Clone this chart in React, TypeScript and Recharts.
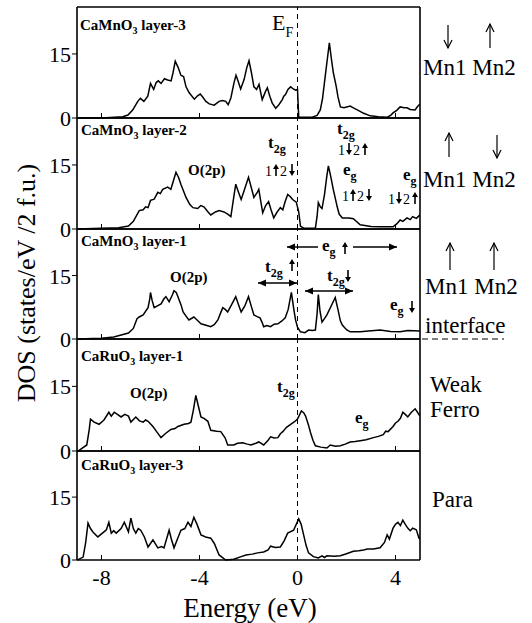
import React from 'react';
import { LineChart, Line, XAxis, YAxis, ReferenceLine } from 'recharts';

const FONT = "'Liberation Serif', 'Times New Roman', Times, 'DejaVu Serif', serif";

// energy grid (eV) and DOS (states/eV/2 f.u.) per layer
const mnL3Energy = [-9, -8, -7.13, -6.92, -6.72, -6.52, -6.41, -6.27, -6.11, -6.0, -5.87, -5.77, -5.68, -5.57, -5.43, -5.3, -5.16, -5.08, -4.99, -4.87, -4.76, -4.65, -4.55, -4.42, -4.21, -4.08, -3.97, -3.87, -3.74, -3.6, -3.4, -3.2, -3.06, -2.93, -2.83, -2.72, -2.59, -2.51, -2.43, -2.32, -2.18, -2.07, -1.98, -1.88, -1.78, -1.67, -1.57, -1.5, -1.44, -1.3, -1.23, -1.13, -1.03, -0.89, -0.76, -0.62, -0.56, -0.49, -0.39, -0.28, -0.17, -0.08, 0.0, 0.05, 0.6, 0.8, 0.93, 1.02, 1.1, 1.2, 1.3, 1.38, 1.46, 1.58, 1.65, 1.75, 1.9, 2.15, 2.3, 2.44, 2.7, 2.97, 3.3, 3.66, 3.8, 3.9, 4.05, 4.19, 4.35, 4.47, 4.6, 4.8, 4.9, 5.0];
const mnL3Dos = [0, 0, 0.3, 0.7, 1.9, 3.9, 4.6, 3.9, 5.1, 8.1, 6.7, 8.3, 8.7, 8.1, 9.2, 8.9, 8.7, 10.6, 13.3, 11.8, 10, 9.7, 7.3, 5.9, 4.4, 5.2, 5.6, 4.9, 3.9, 3.3, 3.0, 3.9, 4.1, 3.9, 3.1, 4.7, 8.3, 10, 8.7, 6.8, 9, 11.8, 13.4, 10.6, 7.3, 6.7, 7.9, 5.9, 4.3, 6.3, 7.1, 5.1, 3.5, 2.3, 3.1, 4.3, 5.1, 5.5, 6.7, 7.3, 6.8, 6.5, 6.7, 0.2, 0.2, 0.6, 1.9, 4.5, 8.3, 13, 17.6, 14, 10.7, 7.4, 5, 2.6, 2.4, 2.8, 2.3, 1.9, 1.1, 0.5, 0.3, 0.2, 0.6, 1.2, 1.8, 2.6, 2.4, 2.4, 2.0, 1.9, 2.7, 3.3];

const mnL2Energy = [-9, -8, -7.3, -6.9, -6.7, -6.46, -6.3, -6.2, -6.1, -6.0, -5.85, -5.7, -5.6, -5.5, -5.3, -5.17, -4.96, -4.85, -4.76, -4.55, -4.4, -4.27, -4.07, -3.95, -3.82, -3.65, -3.54, -3.35, -3.2, -3.0, -2.85, -2.72, -2.6, -2.52, -2.4, -2.3, -2.15, -2.0, -1.9, -1.78, -1.65, -1.58, -1.5, -1.42, -1.3, -1.18, -1.08, -0.97, -0.85, -0.7, -0.6, -0.5, -0.4, -0.3, -0.2, -0.05, 0.05, 0.12, 0.25, 0.73, 0.8, 0.85, 0.93, 1.0, 1.1, 1.2, 1.26, 1.35, 1.46, 1.55, 1.62, 1.7, 1.83, 2.1, 2.28, 2.56, 3.0, 3.37, 3.9, 4.05, 4.19, 4.3, 4.47, 4.6, 4.7, 4.85, 5.0];
const mnL2Dos = [0, 0.2, 0.3, 0.7, 1.8, 4.3, 4.5, 5.2, 5.0, 6.7, 7.0, 8.6, 8.3, 9.3, 9.8, 9.3, 13.3, 12, 10.5, 7.4, 5.8, 5, 4.8, 5.5, 5.2, 4.0, 3.3, 4.0, 4.3, 4, 3.5, 2.9, 7.5, 10.5, 8.5, 6.9, 9.5, 12.1, 10, 7.4, 8.5, 9.3, 6.5, 3.8, 5.5, 6.4, 4.5, 2.6, 3.8, 5, 4.5, 6.5, 8.1, 7.6, 6.9, 6.3, 4, 0.7, 0.2, 0.2, 3, 6.2, 5.2, 4.8, 8, 12.5, 14.8, 12.5, 9.3, 7, 5.2, 3.5, 2.6, 2.6, 2.4, 1.0, 0.6, 0.5, 0.5, 1.2, 2.1, 1.8, 2.6, 2.2, 2.9, 2.5, 3.3];

const mnL1Energy = [-9, -8, -7.5, -6.9, -6.7, -6.55, -6.46, -6.3, -6.1, -6.03, -6.0, -5.93, -5.85, -5.7, -5.57, -5.45, -5.37, -5.24, -5.1, -5.04, -4.95, -4.88, -4.75, -4.67, -4.5, -4.43, -4.23, -4.1, -3.94, -3.7, -3.54, -3.4, -3.25, -3.15, -3.05, -2.95, -2.85, -2.7, -2.52, -2.4, -2.3, -2.15, -2.0, -1.9, -1.78, -1.65, -1.53, -1.45, -1.38, -1.25, -1.1, -0.95, -0.8, -0.65, -0.5, -0.38, -0.25, -0.15, -0.08, 0.0, 0.12, 0.3, 0.45, 0.6, 0.73, 0.8, 0.85, 0.92, 1.0, 1.1, 1.2, 1.35, 1.54, 1.65, 1.75, 1.83, 2.0, 2.15, 2.56, 2.9, 3.37, 3.8, 4.19, 4.5, 5.0];
const mnL1Dos = [0, 0.2, 0.5, 1.4, 2.5, 4.8, 5.2, 5.7, 7.4, 9.5, 11, 9, 7.4, 7.9, 8.3, 9.5, 10, 8.8, 10.5, 11.4, 11, 10, 8, 6.4, 5, 4.5, 5.2, 4.5, 3.6, 3.2, 2.9, 3.4, 4.5, 6, 7.4, 7.0, 6.4, 8, 10, 8, 6.4, 7.8, 10, 8, 5.7, 5.3, 5, 4, 2.9, 3.2, 2.9, 3.5, 3.6, 4.2, 5, 7, 11, 7, 4.5, 2.8, 1.7, 1.5, 2.1, 2.0, 2.1, 6, 10.5, 6.5, 4, 4.8, 5.7, 7.5, 9.8, 7, 4.3, 3.3, 2.2, 1.7, 1.7, 1.9, 2.1, 1.8, 1.7, 2.0, 1.9];

const ruL1Energy = [-9, -8.9, -8.6, -8.5, -8.45, -8.3, -8.1, -7.9, -7.7, -7.6, -7.48, -7.35, -7.2, -7.05, -6.9, -6.8, -6.6, -6.45, -6.3, -6.2, -6.1, -5.9, -5.75, -5.57, -5.4, -5.17, -5.0, -4.88, -4.63, -4.45, -4.35, -4.25, -4.15, -4.05, -3.94, -3.8, -3.66, -3.54, -3.3, -3.13, -2.95, -2.85, -2.6, -2.45, -2.24, -2.05, -1.9, -1.7, -1.58, -1.38, -1.2, -1.1, -0.95, -0.8, -0.7, -0.6, -0.45, -0.28, -0.12, 0, 0.16, 0.25, 0.33, 0.45, 0.53, 0.63, 0.73, 0.95, 1.2, 1.34, 1.55, 1.75, 1.95, 2.15, 2.35, 2.56, 2.8, 3.1, 3.3, 3.5, 3.6, 3.7, 3.9, 4.0, 4.1, 4.2, 4.3, 4.4, 4.5, 4.65, 4.8, 4.9, 5.0];
const ruL1Dos = [0, 0.2, 1.4, 5, 7.4, 6.7, 6.2, 7.2, 9, 8.1, 9, 8.5, 7.9, 8.5, 8.1, 6.7, 7.9, 7.0, 6.7, 7.2, 6.9, 5.7, 4.5, 3.1, 4.0, 5, 5.2, 5.7, 6.2, 6.4, 6.7, 9.5, 12.9, 10.5, 7.9, 7.5, 6.9, 4.8, 4.6, 4.5, 3.0, 1.4, 1.4, 1.8, 1.9, 1.6, 1.4, 1.8, 2.1, 1.4, 2.5, 3.3, 3.0, 3.1, 4.0, 4.5, 5.5, 6.2, 6.8, 7.4, 9.3, 8.9, 8.1, 6, 4.3, 2.5, 1.2, 0.9, 0.7, 1.4, 1.1, 1.2, 1.6, 2.1, 2.2, 2.4, 2.6, 3.1, 3.4, 3.8, 4.6, 4.5, 5.7, 6.5, 6.9, 7.6, 9, 8.5, 7.9, 9.0, 9.8, 9.0, 8.1];

const ruL3Energy = [-9, -8.95, -8.75, -8.65, -8.55, -8.45, -8.35, -8.15, -7.9, -7.8, -7.7, -7.6, -7.5, -7.4, -7.2, -7.07, -6.9, -6.8, -6.7, -6.6, -6.5, -6.4, -6.25, -6.1, -5.9, -5.7, -5.55, -5.45, -5.24, -5.15, -5.04, -4.9, -4.76, -4.6, -4.47, -4.35, -4.23, -4.1, -3.94, -3.75, -3.54, -3.4, -3.2, -2.93, -2.6, -2.3, -2.1, -1.85, -1.63, -1.38, -1.2, -1.1, -0.9, -0.7, -0.55, -0.4, -0.16, 0.05, 0.15, 0.25, 0.35, 0.45, 0.65, 0.85, 1.0, 1.1, 1.2, 1.5, 1.75, 2.0, 2.28, 2.5, 2.7, 2.85, 3.1, 3.37, 3.55, 3.66, 3.75, 3.9, 4.0, 4.1, 4.2, 4.3, 4.4, 4.5, 4.6, 4.7, 4.85, 4.96, 5.0];
const ruL3Dos = [0, 0.1, 0.7, 4, 8.8, 7.5, 6.7, 5.5, 6.7, 7.2, 9, 6.4, 7, 6.4, 7.5, 9, 6.7, 10, 7.5, 6.4, 7.5, 7.1, 5.5, 3.1, 4.8, 2.9, 3.2, 2.9, 7.1, 5, 2.9, 5, 7.1, 7.5, 9, 8, 10.2, 8.5, 6, 5.5, 5.2, 4, 1.2, 0, 0.2, 0.8, 1.2, 1.4, 1.7, 1.9, 2.4, 3.3, 3.0, 3.1, 4.5, 6.4, 7.1, 9.8, 8.5, 6, 3.5, 1.7, 0.8, 0.5, 1.0, 0.6, 1.0, 0.9, 1.0, 1.5, 2.1, 2.2, 2.4, 2.6, 2.6, 2.9, 4.2, 6, 5, 7.6, 8.5, 9, 8.2, 9.5, 8.5, 7.6, 7.0, 7.6, 7.2, 5.2, 5.0];

const xTicks = [-8, -4, 0, 4];
const yTicks = [0, 15];

const toRows = (energy: number[], dos: number[]) => energy.map((e, i) => ({ e, dos: dos[i] }));

const PLOT_LEFT = 77;
const PLOT_RIGHT = 420;
const W = 532;
const PAD = 40;

const panels = [
  { rows: toRows(mnL3Energy, mnL3Dos), top: 7, height: 111 },
  { rows: toRows(mnL2Energy, mnL2Dos), top: 118, height: 111 },
  { rows: toRows(mnL1Energy, mnL1Dos), top: 229, height: 110 },
  { rows: toRows(ruL1Energy, ruL1Dos), top: 339, height: 112 },
  { rows: toRows(ruL3Energy, ruL3Dos), top: 451, height: 109 },
];

const makeXTick = (showLabel: boolean) => (props: any) => {
  const { x, y, payload } = props;
  return (
    <g>
      <line x1={x} x2={x} y1={y} y2={y - 5} stroke="#000" strokeWidth={1} />
      {showLabel && (
        <text x={x} y={y + 25} textAnchor="middle" fontSize={22} fontFamily={FONT} fill="#000">
          {String(payload.value)}
        </text>
      )}
    </g>
  );
};

const LeftTick = (props: any) => {
  const { y, payload } = props;
  return (
    <g>
      <line x1={PLOT_LEFT} x2={PLOT_LEFT - 5} y1={y} y2={y} stroke="#000" strokeWidth={1} />
      <text x={PLOT_LEFT - 6} y={y + 8} textAnchor="end" fontSize={22} fontFamily={FONT} fill="#000">
        {String(payload.value)}
      </text>
    </g>
  );
};

const RightTick = (props: any) => {
  const { y } = props;
  return <line x1={PLOT_RIGHT} x2={PLOT_RIGHT - 6} y1={y} y2={y} stroke="#000" strokeWidth={1} />;
};

const axisLine = { stroke: '#000', strokeWidth: 1.6 };

function Panel({ rows, top, height, last }: { rows: any[]; top: number; height: number; last: boolean }) {
  return (
    <div style={{ position: 'absolute', left: 0, top: top - PAD }}>
      <LineChart width={W} height={height + 2 * PAD} data={rows} margin={{ top: 0, bottom: 0, left: 0, right: 0 }}>
        <XAxis
          dataKey="e"
          type="number"
          domain={[-9, 5]}
          ticks={xTicks}
          interval={0}
          allowDataOverflow
          height={PAD}
          tickSize={0}
          tickMargin={0}
          tickLine={false}
          axisLine={axisLine}
          tick={makeXTick(last)}
        />
        <XAxis
          xAxisId="top"
          orientation="top"
          type="number"
          domain={[-9, 5]}
          height={PAD}
          tick={false}
          tickLine={false}
          axisLine={axisLine}
        />
        <YAxis
          type="number"
          domain={[0, 26]}
          ticks={yTicks}
          interval={0}
          width={PLOT_LEFT}
          tickLine={false}
          axisLine={axisLine}
          tick={LeftTick}
        />
        <YAxis
          yAxisId="right"
          orientation="right"
          type="number"
          domain={[0, 26]}
          ticks={[15]}
          interval={0}
          width={W - PLOT_RIGHT}
          tickLine={false}
          axisLine={axisLine}
          tick={RightTick}
        />
        <ReferenceLine x={0} stroke="#000" strokeWidth={1} strokeDasharray="5 4" />
        <Line dataKey="dos" type="linear" dot={false} stroke="#000" strokeWidth={1.5} isAnimationActive={false} />
      </LineChart>
    </div>
  );
}

const B = { fontWeight: 700, fill: '#000', fontFamily: FONT } as const;
const R = { fontWeight: 400, fill: '#000', fontFamily: FONT } as const;

function Title({ x, y, a, b }: { x: number; y: number; a: string; b: string }) {
  return (
    <text x={x} y={y} fontSize={15} {...B}>
      {a}
      <tspan fontSize={10} dy={4}>3</tspan>
      <tspan dy={-4}>{' ' + b}</tspan>
    </text>
  );
}

function Orb({ x, y, main, sub, size = 17 }: { x: number; y: number; main: string; sub: string; size?: number }) {
  return (
    <text x={x} y={y} fontSize={size} {...B}>
      {main}
      <tspan fontSize={12} dy={5}>{sub}</tspan>
    </text>
  );
}

// small bold spin arrow standing on baseline y
function Spin({ x, y, up }: { x: number; y: number; up: boolean }) {
  const len = 12;
  const y1 = up ? y : y - len;
  const tip = up ? y - len : y;
  const d = up ? 1 : -1;
  return (
    <g>
      <line x1={x} x2={x} y1={y1} y2={tip + d * 3} stroke="#000" strokeWidth={1.6} />
      <polygon points={`${x - 3},${tip + d * 5} ${x},${tip} ${x + 3},${tip + d * 5}`} fill="#000" />
    </g>
  );
}

// "1↑2↓" style label; y = text baseline
function Spins({ x, y, s1, s2 }: { x: number; y: number; s1: boolean; s2: boolean }) {
  return (
    <g>
      <text x={x} y={y} fontSize={14} {...R}>1</text>
      <Spin x={x + 11} y={y} up={s1} />
      <text x={x + 15} y={y} fontSize={14} {...R}>2</text>
      <Spin x={x + 27} y={y} up={s2} />
    </g>
  );
}

function VArrow({ x, y1, y2 }: { x: number; y1: number; y2: number }) {
  const d = y2 > y1 ? -1 : 1;
  return (
    <g stroke="#000" strokeWidth={1.2} fill="none">
      <line x1={x} x2={x} y1={y1} y2={y2} />
      <polyline points={`${x - 4},${y2 + d * 8} ${x},${y2} ${x + 4},${y2 + d * 8}`} />
    </g>
  );
}

function HArrow({ x1, x2, y, both = false }: { x1: number; x2: number; y: number; both?: boolean }) {
  const s = x2 > x1 ? 1 : -1;
  return (
    <g>
      <line x1={x1} x2={x2} y1={y} y2={y} stroke="#000" strokeWidth={1.5} />
      <polygon points={`${x2},${y} ${x2 - s * 8},${y - 3.5} ${x2 - s * 8},${y + 3.5}`} fill="#000" />
      {both && <polygon points={`${x1},${y} ${x1 + s * 8},${y - 3.5} ${x1 + s * 8},${y + 3.5}`} fill="#000" />}
    </g>
  );
}

function Overlay() {
  return (
    <svg width={W} height={623} style={{ position: 'absolute', left: 0, top: 0, pointerEvents: 'none' }}>
      <text transform="translate(35,283) rotate(-90)" textAnchor="middle" fontSize={26} {...R}>
        DOS (states/eV /2 f.u.)
      </text>
      <text x={250} y={617} textAnchor="middle" fontSize={27} {...R}>
        Energy (eV)
      </text>
      <text x={272} y={30} fontSize={22} {...R}>
        E<tspan fontSize={14} dy={7}>F</tspan>
      </text>

      <Title x={80} y={30} a="CaMnO" b="layer-3" />
      <Title x={81} y={135} a="CaMnO" b="layer-2" />
      <Title x={81} y={246} a="CaMnO" b="layer-1" />
      <Title x={81} y={361} a="CaRuO" b="layer-1" />
      <Title x={81} y={470} a="CaRuO" b="layer-3" />

      {/* CaMnO3 layer-2 */}
      <text x={188} y={175} fontSize={15} {...B}>O(2p)</text>
      <Orb x={268} y={148} main="t" sub="2g" />
      <Spins x={265} y={176} s1={true} s2={false} />
      <Orb x={337} y={134} main="t" sub="2g" />
      <Spins x={338} y={155} s1={false} s2={true} />
      <Orb x={343} y={175} main="e" sub="g" />
      <Spins x={342} y={201} s1={true} s2={false} />
      <Orb x={403} y={180} main="e" sub="g" />
      <Spins x={388} y={204} s1={false} s2={true} />

      {/* CaMnO3 layer-1 */}
      <HArrow x1={318} x2={287} y={247} />
      <Orb x={322} y={251} main="e" sub="g" />
      <Spin x={345} y={254} up={true} />
      <HArrow x1={353} x2={397} y={247} />
      <Orb x={265} y={272} main="t" sub="2g" />
      <Spin x={292} y={271} up={true} />
      <HArrow x1={258} x2={297} y={283} both />
      <Orb x={327} y={281} main="t" sub="2g" />
      <Spin x={348} y={282} up={false} />
      <HArrow x1={305} x2={353} y={291} both />
      <text x={170} y={282} fontSize={15} {...B}>O(2p)</text>
      <Orb x={390} y={310} main="e" sub="g" />
      <Spin x={412} y={313} up={false} />

      {/* CaRuO3 layer-1 */}
      <text x={130} y={398} fontSize={15} {...B}>O(2p)</text>
      <Orb x={277} y={392} main="t" sub="2g" />
      <Orb x={355} y={423} main="e" sub="g" />

      {/* right-hand labels */}
      <VArrow x={448} y1={25} y2={48} />
      <VArrow x={490} y1={48} y2={24} />
      <text x={423} y={75} fontSize={23} {...R}>Mn1 Mn2</text>

      <VArrow x={449} y1={157} y2={133} />
      <VArrow x={497} y1={135} y2={158} />
      <text x={423} y={187} fontSize={23} {...R}>Mn1 Mn2</text>

      <VArrow x={450} y1={270} y2={243} />
      <VArrow x={494} y1={270} y2={243} />
      <text x={425} y={294} fontSize={23} {...R}>Mn1 Mn2</text>

      <text x={425} y={333} fontSize={23} {...R}>interface</text>
      <line x1={422} x2={504} y1={339} y2={339} stroke="#000" strokeWidth={1.2} strokeDasharray="6 4" />

      <text x={430} y={392} fontSize={23} {...R}>Weak</text>
      <text x={430} y={417} fontSize={23} {...R}>Ferro</text>
      <text x={432} y={507} fontSize={23} {...R}>Para</text>
    </svg>
  );
}

export default function App() {
  return (
    <div
      style={{
        position: 'absolute',
        left: 0,
        top: 0,
        width: W,
        height: 623,
        background: '#fff',
        overflow: 'hidden',
        fontFamily: FONT,
      }}
    >
      {panels.map((p, i) => (
        <Panel key={i} rows={p.rows} top={p.top} height={p.height} last={i === panels.length - 1} />
      ))}
      <Overlay />
    </div>
  );
}
